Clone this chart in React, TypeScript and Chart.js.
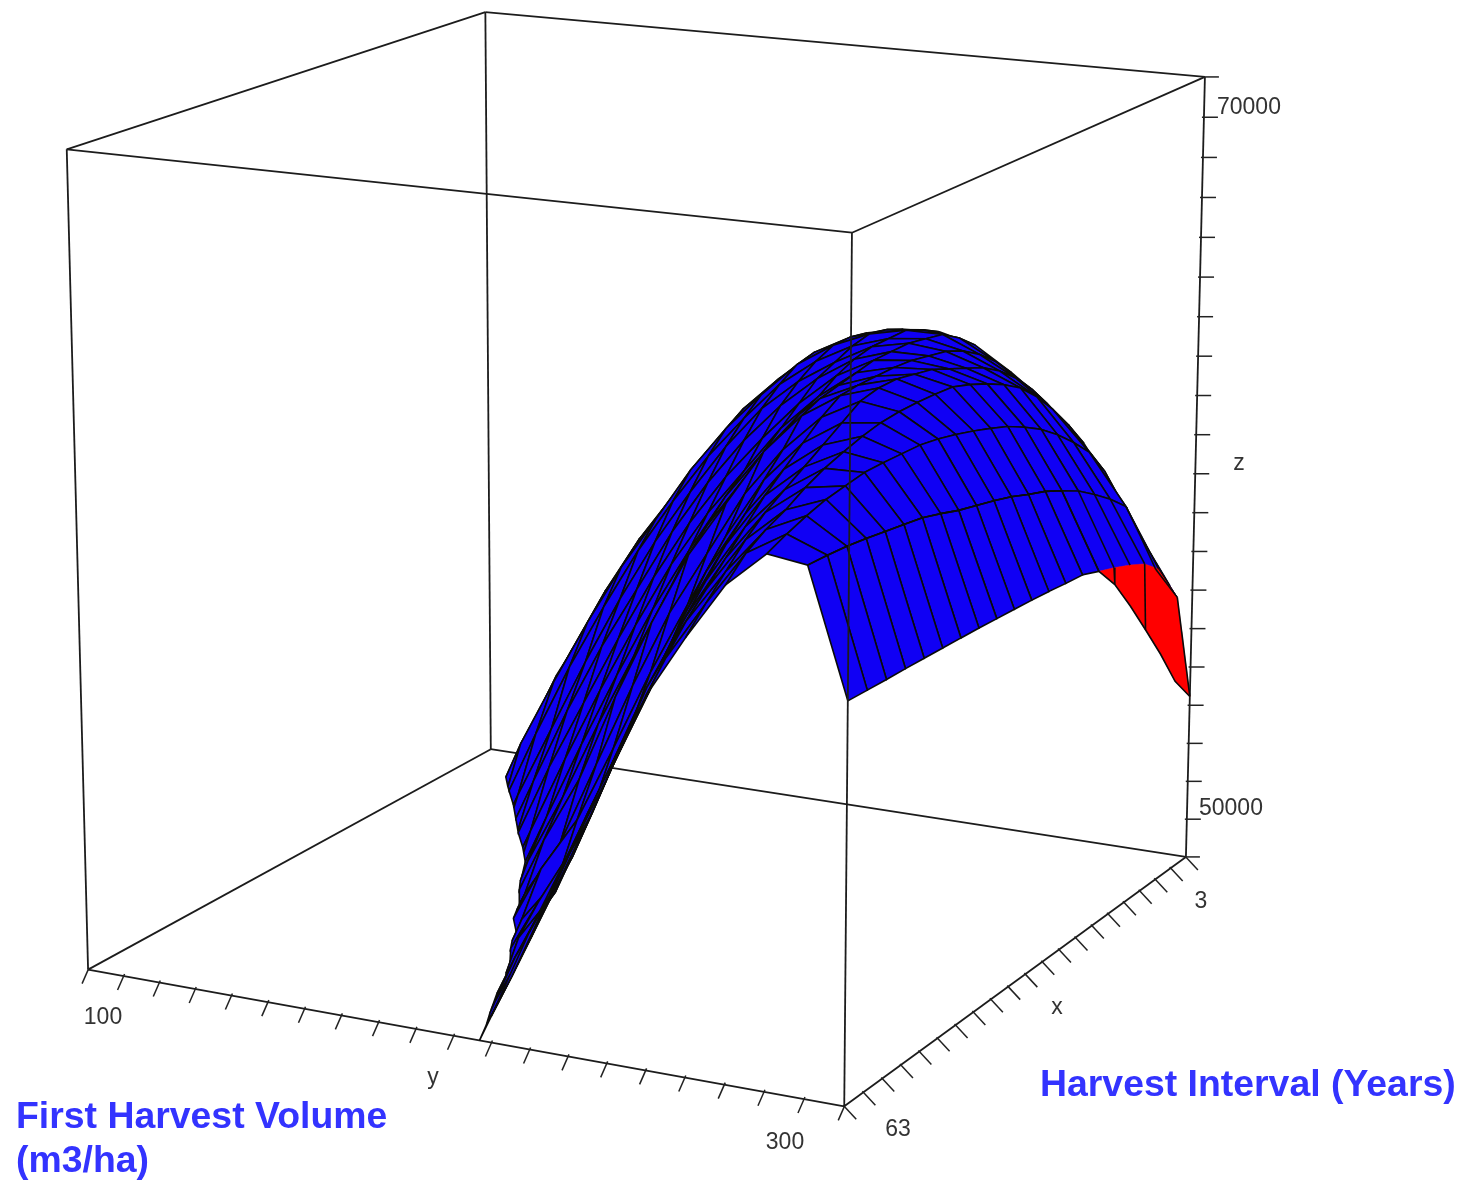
import React, { useEffect, useRef } from "react";
import { Chart, registerables } from "chart.js";

Chart.register(...registerables);

// Axis values
const intervalYears = [3, 6, 9, 12, 15, 18, 21, 24, 27, 30, 33, 36, 39, 42, 45, 48, 51, 54, 57, 60, 63];
const firstVolumes = [100, 110, 120, 130, 140, 150, 160, 170, 180, 190, 200, 210, 220, 230, 240, 250, 260, 270, 280, 290, 300];
const zTicks = [50000, 51000, 52000, 53000, 54000, 55000, 56000, 57000, 58000, 59000, 60000, 61000, 62000, 63000, 64000, 65000, 66000, 67000, 68000, 69000, 70000];
const Z_MIN = 50000;
const Z_MAX = 70000;

// Surface heights: one row per first harvest volume, one value per interval (values under the floor are cut off)
const z100 = [48400, 45000, 45000, 45000, 45000, 45000, 45000, 45000, 45000, 45000, 45000, 45000, 45000, 45000, 45000, 45000, 45000, 45000, 45000, 45000, 45000];
const z110 = [50180, 49400, 48800, 47600, 45000, 45000, 45000, 45000, 45000, 45000, 45000, 45000, 45000, 45000, 45000, 45000, 45000, 45000, 45000, 45000, 45000];
const z120 = [52330, 51580, 50980, 49600, 48200, 47000, 45000, 45000, 45000, 45000, 45000, 45000, 45000, 45000, 45000, 45000, 45000, 45000, 45000, 45000, 45000];
const z130 = [53930, 53430, 52830, 51680, 50280, 49000, 47800, 46400, 45000, 45000, 45000, 45000, 45000, 45000, 45000, 45000, 45000, 45000, 45000, 45000, 45000];
const z140 = [55570, 55170, 54570, 53630, 52230, 51080, 49800, 48400, 47200, 46000, 45000, 45000, 45000, 45000, 45000, 45000, 45000, 45000, 45000, 45000, 45000];
const z150 = [57000, 56700, 56200, 55370, 54170, 53130, 51880, 50480, 49200, 48000, 46800, 45600, 45000, 45000, 45000, 45000, 45000, 45000, 45000, 45000, 45000];
const z160 = [58230, 58000, 57600, 57000, 55970, 54970, 53730, 52530, 51280, 50400, 49400, 48400, 46400, 45400, 45000, 45000, 45000, 45000, 45000, 45000, 45000];
const z170 = [59430, 59330, 59030, 58430, 57600, 56600, 55570, 54470, 53330, 52230, 51400, 50300, 49600, 47600, 46600, 45600, 45000, 45000, 45000, 45000, 45000];
const z180 = [60630, 60530, 60230, 59730, 59030, 58230, 57300, 56300, 55270, 54270, 53130, 51780, 51400, 50400, 49600, 47800, 47000, 46200, 45400, 45000, 45000];
const z190 = [61430, 61430, 61230, 60830, 60330, 59630, 58830, 58000, 57100, 56170, 55370, 53930, 52800, 51600, 51300, 50700, 49600, 49000, 48200, 47400, 46600];
const z200 = [62130, 62230, 62130, 61830, 61430, 60830, 60130, 59430, 58730, 58030, 57400, 56070, 54770, 53630, 52900, 52000, 51600, 51000, 50200, 49400, 48600];
const z210 = [62630, 62730, 62730, 62530, 62230, 61830, 61230, 60630, 60230, 59730, 59230, 58030, 56800, 55770, 54970, 54130, 53330, 52700, 52000, 51300, 50640];
const z220 = [62830, 63030, 63130, 63030, 62830, 62630, 62230, 61830, 61430, 61030, 60630, 59630, 58630, 57800, 57000, 56400, 55570, 54770, 54170, 53430, 52830];
const z230 = [62870, 63130, 63330, 63330, 63330, 63230, 63030, 62730, 62530, 62230, 62030, 61230, 60430, 59830, 59130, 58430, 57700, 57000, 56270, 55570, 54830];
const z240 = [62630, 63030, 63330, 63430, 63530, 63530, 63530, 63430, 63330, 63230, 63030, 62430, 61930, 61330, 60830, 60230, 59630, 59030, 58430, 57600, 56780];
const z250 = [62030, 62530, 62930, 63230, 63430, 63530, 63630, 63670, 63670, 63670, 63630, 63330, 62930, 62530, 62130, 61630, 61130, 60630, 60130, 59530, 58890];
const z260 = [61330, 61930, 62430, 62830, 63130, 63330, 63530, 63730, 63830, 63930, 63930, 63830, 63530, 63230, 62930, 62630, 62330, 61930, 61430, 60930, 60390];
const z270 = [60430, 61130, 61750, 62290, 62730, 63030, 63270, 63470, 63630, 63670, 63690, 63690, 63650, 63550, 63410, 63250, 63030, 62750, 62530, 62230, 61750];
const z280 = [59030, 60050, 60770, 61250, 61670, 62030, 62310, 62550, 62730, 62890, 63030, 63150, 63230, 63250, 63270, 63270, 63190, 63110, 62970, 62790, 62580];
const z290 = [57420, 58490, 59510, 59930, 60290, 60610, 60850, 61070, 61230, 61410, 61550, 61670, 61790, 61950, 62090, 62170, 62250, 62330, 62390, 62430, 62450];
const z300 = [54230, 54890, 55860, 56740, 57600, 58390, 58970, 59130, 59170, 59220, 59260, 59290, 59320, 59350, 59370, 59390, 59410, 59430, 59440, 59460, 59480];
const surfaceRows = [z100, z110, z120, z130, z140, z150, z160, z170, z180, z190, z200, z210, z220, z230, z240, z250, z260, z270, z280, z290, z300];

// Upper limit of the red patch, for the intervals 3..21
const redEdgeYears = [3, 6, 9, 12, 15, 18, 21];
const redEdgeVolume = [296, 298, 299, 299.4, 299.7, 299.7, 300];
const redEdgeHeight = [56760, 57340, 58030, 58410, 58630, 58810, 58970];
const redRibYears = [12, 18];

// Texts
const tickLabelTexts = ["70000", "50000", "z", "3", "x", "63", "300", "y", "100"];
const captionTexts = ["First Harvest Volume", "(m3/ha)", "Harvest Interval (Years)"];

// Camera calibration: where the cube's corners land on the canvas
const CAM: [number, number, number, number, number][] = [
  [63, 300, Z_MIN, 844, 1107],
  [3, 300, Z_MIN, 1186, 856],
  [63, 100, Z_MIN, 88, 969],
  [3, 100, Z_MIN, 491, 750],
  [63, 300, Z_MAX, 852, 233],
  [3, 300, Z_MAX, 1205, 77],
  [63, 100, Z_MAX, 67, 149],
  [3, 100, Z_MAX, 485, 12],
];

const norm = (x: number, y: number, z: number) => [(x - 3) / 60, (y - 100) / 200, (z - Z_MIN) / (Z_MAX - Z_MIN)];

function solveCamera(): number[] {
  const n = 11;
  const A: number[][] = Array.from({ length: n }, () => new Array(n + 1).fill(0));
  const add = (row: number[], rhs: number) => {
    for (let i = 0; i < n; i++) {
      for (let j = 0; j < n; j++) A[i][j] += row[i] * row[j];
      A[i][n] += row[i] * rhs;
    }
  };
  for (const [x, y, z, px, py] of CAM) {
    const [u, v, w] = norm(x, y, z);
    add([u, v, w, 1, 0, 0, 0, 0, -px * u, -px * v, -px * w], px);
    add([0, 0, 0, 0, u, v, w, 1, -py * u, -py * v, -py * w], py);
  }
  for (let c = 0; c < n; c++) {
    let p = c;
    for (let r = c + 1; r < n; r++) if (Math.abs(A[r][c]) > Math.abs(A[p][c])) p = r;
    [A[c], A[p]] = [A[p], A[c]];
    for (let r = 0; r < n; r++) {
      if (r === c) continue;
      const f = A[r][c] / A[c][c];
      for (let k = c; k <= n; k++) A[r][k] -= f * A[c][k];
    }
  }
  return A.map((row, i) => row[n] / row[i]);
}
const M = solveCamera();

type P3 = [number, number, number];
function project([x, y, z]: P3) {
  const [u, v, w] = norm(x, y, z);
  const d = M[8] * u + M[9] * v + M[10] * w + 1;
  return { x: (M[0] * u + M[1] * v + M[2] * w + M[3]) / d, y: (M[4] * u + M[5] * v + M[6] * w + M[7]) / d };
}

function clipToFloor(poly: P3[]): P3[] {
  const out: P3[] = [];
  for (let i = 0; i < poly.length; i++) {
    const a = poly[i];
    const b = poly[(i + 1) % poly.length];
    const ain = a[2] >= Z_MIN;
    const bin = b[2] >= Z_MIN;
    if (ain) out.push(a);
    if (ain !== bin) {
      const t = (Z_MIN - a[2]) / (b[2] - a[2]);
      out.push([a[0] + (b[0] - a[0]) * t, a[1] + (b[1] - a[1]) * t, Z_MIN]);
    }
  }
  return out;
}

const BLUE = "#1000f4";
const RED = "#ff0000";
const INK = "#0a0a0a";
const BOX = "#1c1c1c";
const LINE = 1.6;
const BOX_LINE = 1.8;

function polygon(points: P3[], fill: string, stroke: string, width = LINE) {
  const pts = points.map(project);
  pts.push(pts[0]);
  return { data: pts, showLine: true, fill: "shape", backgroundColor: fill, borderColor: stroke, borderWidth: width, pointRadius: 0, tension: 0, clip: false };
}
function polyline(points: P3[], width = LINE, color = INK) {
  return { data: points.map(project), showLine: true, fill: false, borderColor: color, borderWidth: width, pointRadius: 0, tension: 0, clip: false };
}
function offsetLine(p: P3, d0: [number, number], d1: [number, number]) {
  const q = project(p);
  return {
    data: [{ x: q.x + d0[0], y: q.y + d0[1] }, { x: q.x + d1[0], y: q.y + d1[1] }],
    showLine: true, fill: false, borderColor: "#222222", borderWidth: 1.5, pointRadius: 0, tension: 0, clip: false,
  };
}

function buildDatasets() {
  const ds: any[] = [];
  const x0 = 3, x1 = 63, y0 = 100, y1 = 300;
  // Box, behind the surface
  const edges: [P3, P3][] = [
    [[x1, y0, Z_MAX], [x0, y0, Z_MAX]],
    [[x0, y0, Z_MAX], [x0, y1, Z_MAX]],
    [[x1, y0, Z_MAX], [x1, y1, Z_MAX]],
    [[x0, y1, Z_MAX], [x1, y1, Z_MAX]],
    [[x1, y0, Z_MAX], [x1, y0, Z_MIN]],
    [[x0, y0, Z_MAX], [x0, y0, Z_MIN]],
    [[x0, y1, Z_MAX], [x0, y1, Z_MIN]],
    [[x1, y0, Z_MIN], [x0, y0, Z_MIN]],
    [[x0, y0, Z_MIN], [x0, y1, Z_MIN]],
    [[x1, y0, Z_MIN], [x1, y1, Z_MIN]],
    [[x0, y1, Z_MIN], [x1, y1, Z_MIN]],
  ];
  edges.forEach((e) => ds.push(polyline(e, BOX_LINE, BOX)));
  intervalYears.forEach((x) => ds.push(offsetLine([x, y1, Z_MIN], [-1, -1], [12, 13])));
  firstVolumes.forEach((y) => ds.push(offsetLine([x1, y, Z_MIN], [1, -2], [-6, 14])));
  zTicks.forEach((z) => ds.push(offsetLine([x0, y1, z], [-2, 0], [14, 0])));

  // Surface, back to front
  const last = firstVolumes.length - 1;
  for (let r = 0; r < last; r++) {
    for (let c = 0; c < intervalYears.length - 1; c++) {
      const xa = intervalYears[c], xb = intervalYears[c + 1];
      const ya = firstVolumes[r], yb = firstVolumes[r + 1];
      const row = surfaceRows[r], nxt = surfaceRows[r + 1];
      if (r === last - 1 && c < redEdgeYears.length - 1) {
        ds.push(polygon([[xa, ya, row[c]], [xb, ya, row[c + 1]], [xb, redEdgeVolume[c + 1], redEdgeHeight[c + 1]], [xa, redEdgeVolume[c], redEdgeHeight[c]]], BLUE, BLUE, 1));
        continue;
      }
      const cell = clipToFloor([[xa, ya, row[c]], [xb, ya, row[c + 1]], [xb, yb, nxt[c + 1]], [xa, yb, nxt[c]]]);
      if (cell.length >= 3) ds.push(polygon(cell, BLUE, INK));
    }
  }
  // Red patch and the lines around it
  const redTop: P3[] = redEdgeYears.map((x, i) => [x, redEdgeVolume[i], redEdgeHeight[i]]);
  const redBottom: P3[] = redEdgeYears.map((x, i) => [x, 300, z300[i]]);
  ds.push(polygon([...redTop, ...[...redBottom].reverse()], RED, RED, 0.5));
  ds.push(polyline(intervalYears.map((x, i) => [x, 290, z290[i]] as P3)));
  redEdgeYears.forEach((x, i) => ds.push(polyline([[x, 290, z290[i]], redTop[i]])));
  redRibYears.forEach((x) => {
    const i = redEdgeYears.indexOf(x);
    ds.push(polyline([redTop[i], redBottom[i]]));
  });
  ds.push(polyline(redBottom));
  ds.push(polyline([redTop[0], redBottom[0]]));
  ds.push(polyline(redTop.slice(0, 3), 1));
  // The near vertical edge stays in front of the surface
  ds.push(polyline([[x1, y1, Z_MAX], [x1, y1, Z_MIN]], BOX_LINE, BOX));
  return ds.reverse();
}

const textPlugin = {
  id: "labels3d",
  afterDraw(chart: any) {
    const ctx = chart.ctx;
    ctx.save();
    ctx.textBaseline = "alphabetic";
    ctx.fillStyle = "#333333";
    ctx.font = '23px "Liberation Sans"';
    ctx.textAlign = "left";
    ctx.fillText(tickLabelTexts[0], 1217, 114);
    ctx.fillText(tickLabelTexts[1], 1199, 815);
    ctx.textAlign = "center";
    ctx.fillText(tickLabelTexts[2], 1239, 470);
    ctx.fillText(tickLabelTexts[3], 1201, 908);
    ctx.fillText(tickLabelTexts[4], 1057, 1014);
    ctx.fillText(tickLabelTexts[5], 898, 1136);
    ctx.fillText(tickLabelTexts[6], 785, 1149);
    ctx.fillText(tickLabelTexts[7], 433, 1084);
    ctx.fillText(tickLabelTexts[8], 103, 1024);
    ctx.textAlign = "left";
    ctx.fillStyle = "#3333ff";
    ctx.font = 'bold 37.4px "Liberation Sans"';
    ctx.fillText(captionTexts[0], 16, 1128);
    ctx.fillText(captionTexts[1], 16, 1172);
    ctx.fillText(captionTexts[2], 1040, 1096);
    ctx.restore();
  },
};

export default function App() {
  const ref = useRef<HTMLCanvasElement | null>(null);
  useEffect(() => {
    if (!ref.current) return;
    const chart = new Chart(ref.current, {
      type: "scatter",
      data: { datasets: buildDatasets() },
      options: {
        animation: false,
        responsive: false,
        events: [],
        layout: { padding: 0 },
        plugins: { legend: { display: false }, tooltip: { enabled: false }, title: { display: false } },
        scales: {
          x: { type: "linear", display: false, min: 0, max: 1463 },
          y: { type: "linear", display: false, min: 0, max: 1181, reverse: true },
        },
      },
      plugins: [textPlugin],
    } as any);
    return () => chart.destroy();
  }, []);
  return (
    <div style={{ position: "absolute", left: 0, top: 0, width: 1463, height: 1181, background: "#ffffff" }}>
      <canvas ref={ref} width={1463} height={1181} style={{ display: "block" }} />
    </div>
  );
}
